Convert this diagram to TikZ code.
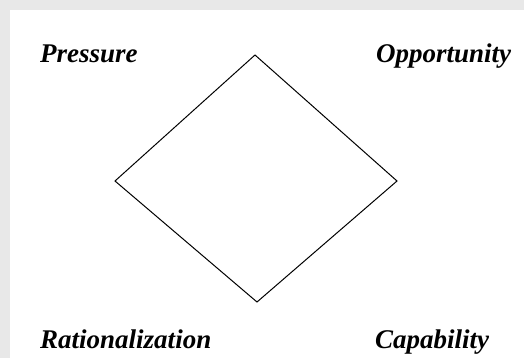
\documentclass[tikz,border=0pt]{standalone}
\usepackage{fontspec}
\setmainfont{Liberation Serif}
\usepackage{tikz}
\usetikzlibrary{positioning}
\tikzset{
  factor/.style={anchor=base west,inner sep=0pt,
    font=\fontsize{27}{30}\selectfont\bfseries\itshape},
  edge/.style={line width=1pt,line join=miter}
}
\begin{document}
\begin{tikzpicture}[x=1pt,y=-1pt]
  \fill[gray!18] (0,0) rectangle (524,358);
  \fill[white] (10,10) rectangle (524,358);
  \useasboundingbox (0,0) rectangle (524,358);
  \coordinate (top) at (255,55);
  \coordinate (left) at (115,181);
  \coordinate (right) at (397,181);
  \coordinate (bottom) at (257,302);
  \node[factor] (pressure) at (40,63) {Pressure};
  \node[factor] (opportunity) at (376,63) {Opportunity};
  \node[factor] (rationalization) at (40,348) {Rationalization};
  \node[factor] (capability) at (375,348) {Capability};
  \draw[edge] (top) -- (right) -- (bottom) -- (left) -- cycle;
\end{tikzpicture}
\end{document}
